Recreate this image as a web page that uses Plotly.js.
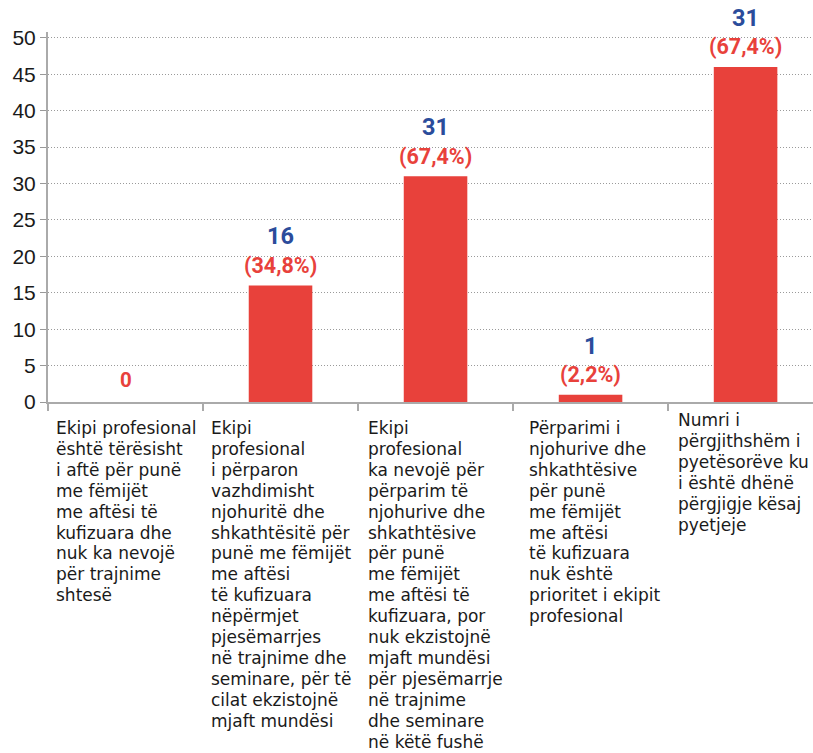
<!DOCTYPE html>
<html>
<head>
<meta charset="utf-8">
<script src="https://cdn.plot.ly/plotly-3.0.1.min.js"></script>
<style>html,body{margin:0;padding:0;background:#fff;}#chart{width:813px;height:753px;}</style>
</head>
<body>
<div id="chart"></div>
<script>
// ---- data ----
const categories = [
  "Ekipi profesional<br>është tërësisht<br>i aftë për punë<br>me fëmijët<br>me aftësi të<br>kufizuara dhe<br>nuk ka nevojë<br>për trajnime<br>shtesë",
  "Ekipi<br>profesional<br>i përparon<br>vazhdimisht<br>njohuritë dhe<br>shkathtësitë për<br>punë me fëmijët<br>me aftësi<br>të kufizuara<br>nëpërmjet<br>pjesëmarrjes<br>në trajnime dhe<br>seminare, për të<br>cilat ekzistojnë<br>mjaft mundësi",
  "Ekipi<br>profesional<br>ka nevojë për<br>përparim të<br>njohurive dhe<br>shkathtësive<br>për punë<br>me fëmijët<br>me aftësi të<br>kufizuara, por<br>nuk ekzistojnë<br>mjaft mundësi<br>për pjesëmarrje<br>në trajnime<br>dhe seminare<br>në këtë fushë",
  "Përparimi i<br>njohurive dhe<br>shkathtësive<br>për punë<br>me fëmijët<br>me aftësi<br>të kufizuara<br>nuk është<br>prioritet i ekipit<br>profesional",
  "Numri i<br>përgjithshëm i<br>pyetësorëve ku<br>i është dhënë<br>përgjigje kësaj<br>pyetjeje"
];
const values = [0, 16, 31, 1, 46];
const countLabels = ["0", "16", "31", "1", "31"];
const percentLabels = ["", "(34,8%)", "(67,4%)", "(2,2%)", "(67,4%)"];
const yTickVals = [0, 5, 10, 15, 20, 25, 30, 35, 40, 45, 50];

// ---- style / layout helpers ----
const RED = "#e8413b";
const BLUE = "#2b4c9b";
const labelShiftX = [6, 6, 8, 14, 8];     // px from left category boundary
const labelTopY = [26, 26, 26, 26, 18];   // px below axis for first line
const LINE_H = 20.9;

const xIdx = categories.map((_, i) => i);

const annotations = [];
categories.forEach((cat, i) => {
  cat.split("<br>").forEach((line, k) => {
    annotations.push({
      xref: "x", yref: "paper", x: i - 0.5, y: 0,
      xanchor: "left", yanchor: "middle",
      xshift: labelShiftX[i], yshift: -(labelTopY[i] + k * LINE_H),
      text: line, showarrow: false, align: "left",
      font: {family: "DejaVu Sans", size: 17, color: "#1a1a1a"}
    });
  });
});
values.forEach((v, i) => {
  if (percentLabels[i]) {
    annotations.push({
      xref: "x", yref: "y", x: i, y: v, xanchor: "center", yanchor: "middle",
      yshift: 20, text: "<b>" + percentLabels[i] + "</b>", showarrow: false,
      font: {family: "Roboto", size: 21.5, color: RED}
    });
    annotations.push({
      xref: "x", yref: "y", x: i, y: v, xanchor: "center", yanchor: "middle",
      yshift: 49, text: "<b>" + countLabels[i] + "</b>", showarrow: false,
      font: {family: "Roboto", size: 23.5, color: BLUE}
    });
  } else {
    annotations.push({
      xref: "x", yref: "y", x: i, y: v, xanchor: "center", yanchor: "middle",
      yshift: 22, text: "<b>" + countLabels[i] + "</b>", showarrow: false,
      font: {family: "Roboto", size: 20.5, color: RED}
    });
  }
});

const trace = {
  type: "bar", x: xIdx, y: values, width: 0.41,
  marker: {color: RED}, hoverinfo: "skip"
};

const layout = {
  width: 813, height: 753,
  margin: {l: 48, r: 0, t: 32, b: 351},
  paper_bgcolor: "#fff", plot_bgcolor: "#fff",
  showlegend: false,
  xaxis: {
    type: "linear", range: [-0.5, 4.435],
    tickmode: "array", tickvals: [-0.5, 0.5, 1.5, 2.5, 3.5],
    showticklabels: false, ticks: "outside", ticklen: 7, tickwidth: 2, tickcolor: "#aaa",
    showgrid: false, zeroline: false, showline: true, linecolor: "#aaa", linewidth: 2
  },
  yaxis: {
    range: [0, 50.8], tickmode: "array", tickvals: yTickVals,
    ticks: "outside", ticklen: 6, tickwidth: 1, tickcolor: "#999",
    tickfont: {family: "Liberation Sans", size: 21, color: "#1a1a1a"},
    showgrid: true, gridcolor: "#9a9a9a", gridwidth: 1, griddash: "1px,2px",
    zeroline: false, showline: true, linecolor: "#aaa", linewidth: 2
  },
  annotations: annotations
};

Plotly.newPlot("chart", [trace], layout, {staticPlot: true, displayModeBar: false});
</script>
</body>
</html>
